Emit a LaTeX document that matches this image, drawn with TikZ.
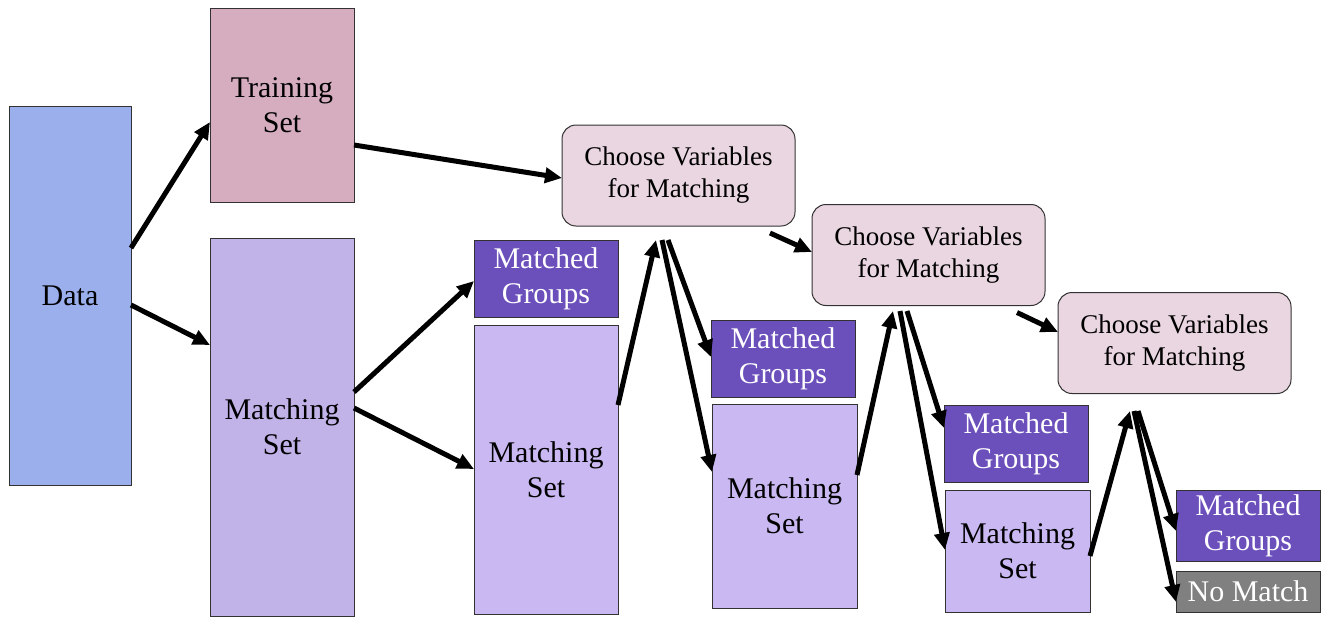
\documentclass[tikz,border=0pt]{standalone}
\usepackage{fontspec}
\setmainfont{Liberation Serif}
\usetikzlibrary{arrows.meta}

\definecolor{datablue}{RGB}{154,175,236}
\definecolor{trainpink}{RGB}{213,173,191}
\definecolor{setlilac}{RGB}{193,178,232}
\definecolor{restlilac}{RGB}{201,184,241}
\definecolor{groupviolet}{RGB}{107,79,187}
\definecolor{choosepink}{RGB}{234,214,224}
\definecolor{nogray}{RGB}{128,128,128}
\definecolor{edgegray}{RGB}{50,50,50}

\begin{document}
\begin{tikzpicture}[x=1pt,y=-1pt,
	box/.style = {draw=edgegray, line width=1pt, inner sep=0pt, outer sep=0pt, align=center,
		font=\fontsize{30}{35}\selectfont},
	choosebox/.style = {box, rounded corners=14pt, fill=choosepink, minimum width=233, minimum height=101,
		font=\fontsize{27}{32}\selectfont},
	groupbox/.style = {box, fill=groupviolet, text=white, minimum width=144, minimum height=77},
	arr/.style = {line width=5pt, -{Triangle[length=17pt,width=15pt]}}]
	\useasboundingbox (0,0) rectangle (1323,619);

	\node[box, fill=datablue, minimum width=122, minimum height=379] (data) at (70,295.5) {Data};
	\node[box, fill=trainpink, minimum width=144, minimum height=194] (train) at (282,105) {Training\\Set};
	\node[box, fill=setlilac, minimum width=144, minimum height=378] (ms1) at (282,427) {Matching\\Set};

	\node[choosebox] (choose1) at (678.5,175.5) {Choose Variables\\for Matching};
	\node[groupbox] (mg1) at (546,278.5) {Matched\\Groups};
	\node[box, fill=restlilac, minimum width=144, minimum height=289] (ms2) at (546,469.5) {Matching\\Set};

	\node[choosebox] (choose2) at (928.5,255) {Choose Variables\\for Matching};
	\node[groupbox] (mg2) at (783,358.5) {Matched\\Groups};
	\node[box, fill=restlilac, minimum width=145, minimum height=204] (ms3) at (784.5,506) {Matching\\Set};

	\node[choosebox] (choose3) at (1174.5,343) {Choose Variables\\for Matching};
	\node[groupbox] (mg3) at (1016,443.5) {Matched\\Groups};
	\node[box, fill=restlilac, minimum width=145, minimum height=122] (ms4) at (1017.5,551) {Matching\\Set};
	\node[groupbox, minimum height=71] (mg4) at (1248,525.5) {Matched\\Groups};
	\node[box, fill=nogray, text=white, minimum width=144, minimum height=41] (nomatch) at (1248,591.5) {No Match};

	\coordinate (up1) at (656,240);
	\coordinate (fork1a) at (662,240);
	\coordinate (fork1b) at (668,240);
	\coordinate (up2) at (893,311);
	\coordinate (fork2a) at (900,311);
	\coordinate (fork2b) at (907,311);
	\coordinate (up3) at (1130,411);
	\coordinate (fork3a) at (1134,411);
	\coordinate (fork3b) at (1138,411);

	\draw[arr] (data.east |- 0,248) -- (train.west |- 0,122);
	\draw[arr] (data.east |- 0,305) -- (ms1.west |- 0,345);
	\draw[arr] (train.east |- 0,145) -- (choose1.west |- 0,178);
	\draw[arr] (ms1.east |- 0,392) -- (mg1.west |- 0,281);
	\draw[arr] (ms1.east |- 0,408) -- (ms2.west |- 0,469);

	\draw[arr] (ms2.east |- 0,405) -- (up1);
	\draw[arr] (fork1a) -- (ms3.west |- 0,472);
	\draw[arr] (fork1b) -- (mg2.west |- 0,357);
	\draw[arr] ([xshift=-25pt,yshift=-7pt]choose1.south east) -- (choose2.west |- 0,252);

	\draw[arr] (ms3.east |- 0,475) -- (up2);
	\draw[arr] (fork2a) -- (ms4.west |- 0,550);
	\draw[arr] (fork2b) -- (mg3.west |- 0,428);
	\draw[arr] ([xshift=-28pt,yshift=-7pt]choose2.south east) -- (choose3.west |- 0,332);

	\draw[arr] (ms4.east |- 0,556) -- (up3);
	\draw[arr] (fork3a) -- (nomatch.west |- 0,602);
	\draw[arr] (fork3b) -- (mg4.west |- 0,531);
\end{tikzpicture}
\end{document}
